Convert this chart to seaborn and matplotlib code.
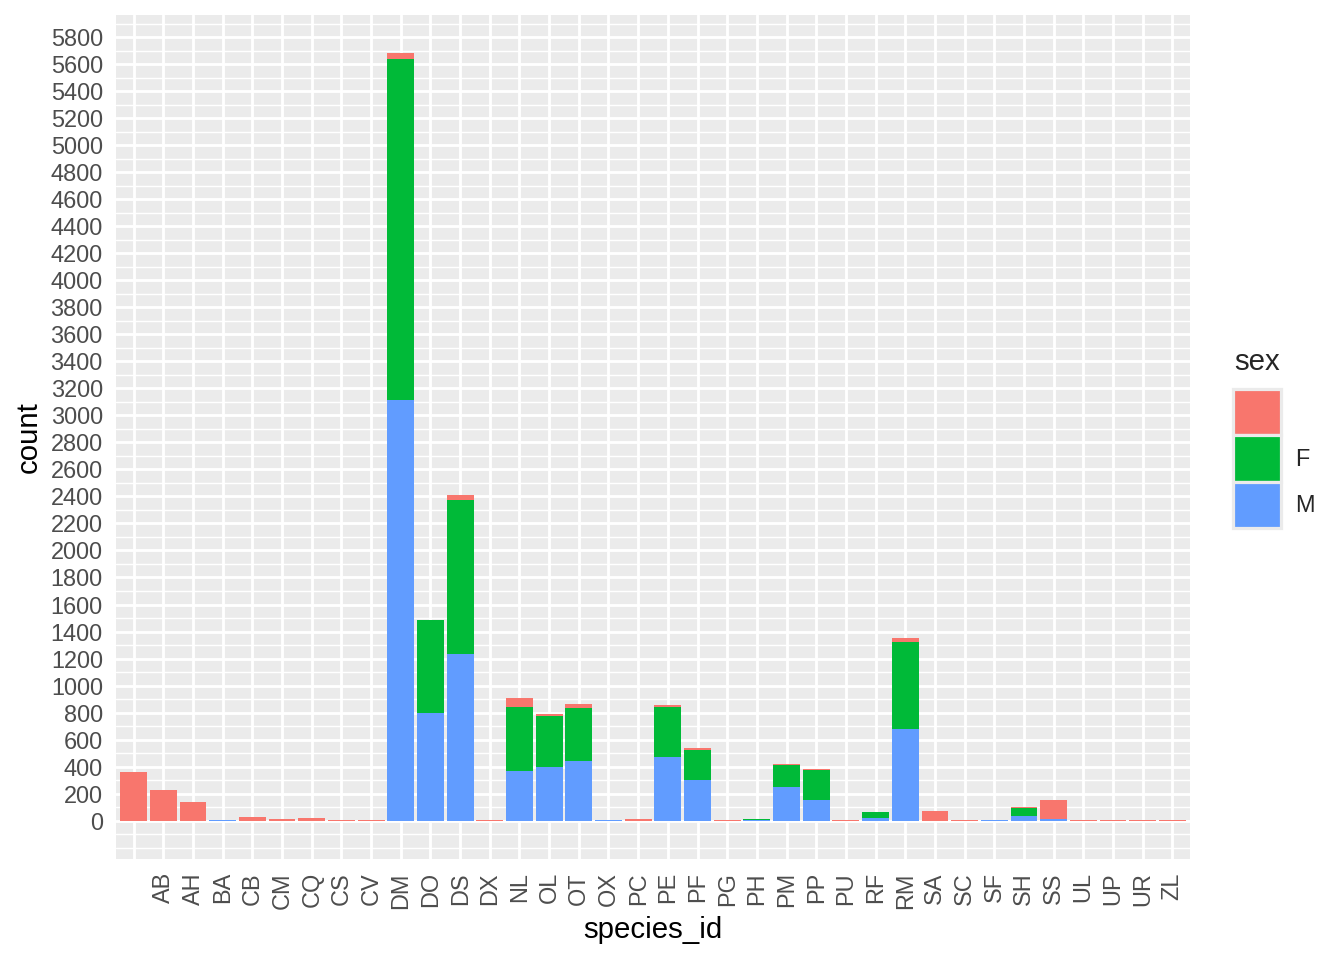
import numpy as np
import pandas as pd
import matplotlib.pyplot as plt
from matplotlib.patches import Patch
import seaborn as sns

# valores (conteo por especie y sexo)
species = ["", "AB", "AH", "BA", "CB", "CM", "CQ", "CS", "CV", "DM", "DO", "DS",
           "DX", "NL", "OL", "OT", "OX", "PC", "PE", "PF", "PG", "PH", "PM", "PP",
           "PU", "RF", "RM", "SA", "SC", "SF", "SH", "SS", "UL", "UP", "UR", "ZL"]
male = [0, 0, 0, 6, 0, 0, 0, 0, 0, 3112, 797, 1234,
        0, 368, 397, 442, 5, 0, 471, 301, 0, 6, 249, 153,
        0, 20, 678, 0, 0, 5, 35, 10, 0, 0, 0, 0]
female = [0, 0, 0, 0, 0, 0, 0, 0, 0, 2523, 688, 1139,
          0, 473, 378, 392, 3, 0, 370, 222, 0, 3, 163, 222,
          0, 44, 644, 0, 0, 0, 59, 0, 0, 0, 0, 0]
blank = [360, 227, 138, 0, 27, 12, 19, 5, 5, 45, 0, 37,
         5, 67, 14, 29, 0, 10, 15, 15, 5, 0, 7, 7,
         5, 0, 30, 72, 5, 0, 7, 143, 4, 4, 4, 4]

sex_levels = ["", "F", "M"]
sex_colors = ["#F8766D", "#00BA38", "#619CFF"]

sns.set_theme(style="darkgrid")
plt.rcParams['font.family'] = ['Liberation Sans', 'DejaVu Sans']

df = pd.DataFrame({'species_id': species, 'M': male, 'F': female, 'blank': blank})
df['MF'] = df['M'] + df['F']
df['total'] = df['MF'] + df['blank']

fig = plt.figure(figsize=(7, 5), dpi=192)
ax = fig.add_axes([116 / 1344, 1 - 859 / 960, (1190 - 116) / 1344, (859 - 15) / 960])
ax.set_facecolor('#EBEBEB')

# barras apiladas: total (rojo), F+M (verde), M (azul)
for col, c in zip(['total', 'MF', 'M'], sex_colors):
    sns.barplot(data=df, x='species_id', y=col, order=species, color=c,
                width=0.9, saturation=1, errorbar=None, linewidth=0, ax=ax)

ymax = df['total'].max()
ylo, yhi = -0.05 * ymax, 1.05 * ymax
ax.set_xlim(-0.6, len(species) - 0.4)
ax.set_ylim(ylo, yhi)
ax.set_yticks(np.arange(0, yhi, 200))
ax.set_yticks([v for v in np.arange(-200, yhi, 100) if v < 0 or v % 200], minor=True)

ax.set_axisbelow(True)
ax.xaxis.grid(True, which='major', color='white', lw=1.07)
ax.yaxis.grid(True, which='major', color='white', lw=1.07)
ax.yaxis.grid(True, which='minor', color='white', lw=0.53)
for s in ax.spines.values():
    s.set_visible(False)

ax.tick_params(axis='both', which='major', length=2.75, width=1.07, color='#333333',
               labelsize=8.8, labelcolor='#4D4D4D', pad=2.2)
ax.tick_params(axis='both', which='minor', length=0)
ax.set_xticks(range(len(species)))
ax.set_xticklabels(species, rotation=90)

ax.set_xlabel('species_id', fontsize=11, color='black', labelpad=2.75)
ax.set_ylabel('count', fontsize=11, color='black', labelpad=2.75)

# leyenda al estilo ggplot
handles = [Patch(facecolor=c, edgecolor='#EBEBEB', linewidth=1.2) for c in sex_colors]
leg = fig.legend(handles, sex_levels, loc='center left',
                 bbox_to_anchor=(1233 / 1344, 1 - 458.5 / 960), frameon=False,
                 fontsize=8.8, handlelength=2.05, handleheight=2.67,
                 labelspacing=0, handletextpad=0.6, borderpad=0, borderaxespad=0)
fig.text(1234 / 1344, 1 - 362 / 960, 'sex', fontsize=11, va='center', ha='left')

fig.savefig('out.png', dpi=192)
